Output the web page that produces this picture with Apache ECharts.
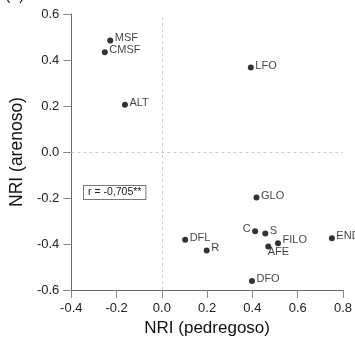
<!DOCTYPE html>
<html>
<head>
<meta charset="utf-8">
<script src="https://cdn.jsdelivr.net/npm/echarts@6/dist/echarts.min.js"></script>
<style>html,body{margin:0;padding:0;background:#fff}#c{width:355px;height:342px}</style>
</head>
<body>
<div id="c"></div>
<script>
var names = ['MSF','CMSF','ALT','LFO','GLO','C','S','FILO','AFE','DFL','R','END','DFO'];
var xVals = [-0.228,-0.252,-0.163,0.393,0.418,0.412,0.457,0.513,0.470,0.103,0.198,0.751,0.398];
var yVals = [0.485,0.434,0.205,0.367,-0.198,-0.345,-0.354,-0.397,-0.411,-0.381,-0.428,-0.375,-0.561];
var xTicks = ['-0.4','-0.2','0.0','0.2','0.4','0.6','0.8'];
var yTicks = ['-0.6','-0.4','-0.2','0.0','0.2','0.4','0.6'];
var corrText = 'r = -0,705**';

var labelStyle = {
  C: {position:'left', offset:[0,-2]},
  AFE: {position:'right', offset:[-5,5]},
  FILO: {position:'right', offset:[0,-3]}
};

var font = 'Liberation Sans, Arial, sans-serif';
var data = names.map(function(n,i){
  var it = {name:n, value:[xVals[i], yVals[i]]};
  if (labelStyle[n]) it.label = labelStyle[n];
  return it;
});

var chart = echarts.init(document.getElementById('c'), null, {renderer:'canvas'});
chart.setOption({
  animation:false,
  title:{text:'(b) Arenoso', left:0, top:-17, textStyle:{fontFamily:font, fontSize:16, fontWeight:'normal', color:'#222'}},
  grid:{left:65, right:11.7, top:14, bottom:50.3, containLabel:false},
  xAxis:{type:'value', min:-0.4, max:0.8, interval:0.2,
    name:'NRI (pedregoso)', nameLocation:'middle', nameGap:30,
    nameTextStyle:{fontFamily:font, fontSize:17, color:'#111'},
    axisLine:{show:true, onZero:false, lineStyle:{color:'#666', width:1}},
    axisTick:{show:true, inside:false, length:8, lineStyle:{color:'#888'}},
    axisLabel:{fontFamily:font, fontSize:13, color:'#222', margin:12, formatter:function(v){return xTicks[Math.round((v+0.4)/0.2)];}},
    splitLine:{show:false}},
  yAxis:{type:'value', min:-0.6, max:0.6, interval:0.2,
    name:'NRI (arenoso)', nameLocation:'middle', nameGap:31,
    nameTextStyle:{fontFamily:font, fontSize:17.5, color:'#111'},
    axisLine:{show:true, onZero:false, lineStyle:{color:'#666', width:1}},
    axisTick:{show:true, inside:false, length:8, lineStyle:{color:'#888'}},
    axisLabel:{fontFamily:font, fontSize:13, color:'#222', margin:12, formatter:function(v){return yTicks[Math.round((v+0.6)/0.2)];}},
    splitLine:{show:false}},
  series:[{
    type:'scatter', symbol:'circle', symbolSize:6,
    itemStyle:{color:'#000'},
    label:{show:true, position:'right', distance:1.5, offset:[0,-2], formatter:'{b}', fontFamily:font, fontSize:11, color:'#111'},
    data:data,
    markLine:{silent:true, symbol:'none', label:{show:false},
      lineStyle:{color:'#ccc', type:[3,3], width:1},
      data:[{xAxis:0},{yAxis:0}]}
  }],
  graphic:[{type:'text', left:83, top:185,
    style:{text:corrText, fontFamily:font, fontSize:10.5, fill:'#222',
      backgroundColor:'#fff', borderColor:'#777', borderWidth:1, padding:[1,4,1,4]}}]
});
</script>
</body>
</html>
